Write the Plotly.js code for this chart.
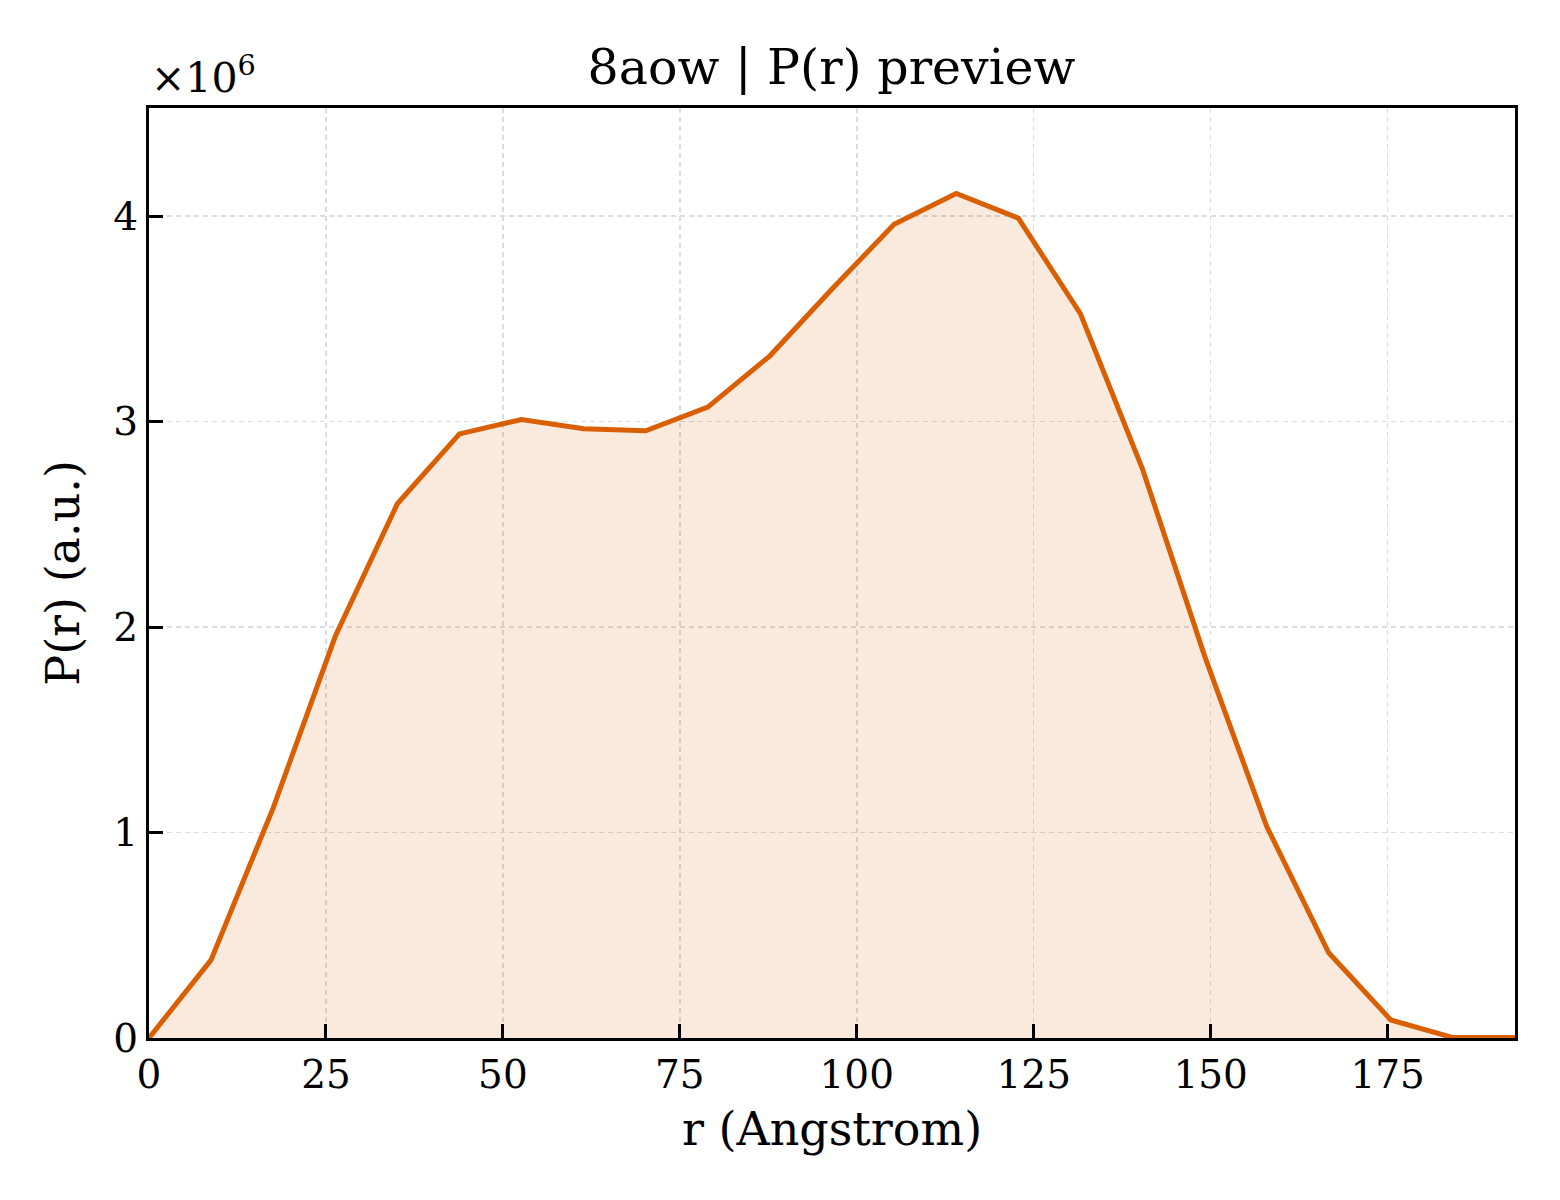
<!DOCTYPE html>
<html>
<head>
<meta charset="utf-8">
<script src="https://cdn.plot.ly/plotly-3.0.1.min.js"></script>
<style>html,body{margin:0;padding:0;background:#fff;}#chart{width:1560px;height:1200px;}</style>
</head>
<body>
<div id="chart"></div>
<script>
const rValues = [0, 8.77, 17.55, 26.32, 35.09, 43.86, 52.64, 61.41, 70.18, 78.95, 87.73, 96.5, 105.27, 114.05, 122.82, 131.59, 140.36, 149.14, 157.91, 166.68, 175.45, 184.23, 193.0];
const prValues = [0, 0.38e6, 1.12e6, 1.955e6, 2.60e6, 2.94e6, 3.01e6, 2.965e6, 2.955e6, 3.07e6, 3.32e6, 3.645e6, 3.96e6, 4.11e6, 3.99e6, 3.525e6, 2.77e6, 1.86e6, 1.03e6, 0.415e6, 0.088e6, 0.002e6, 0.002e6];
const xTicks = [0, 25, 50, 75, 100, 125, 150, 175];
const yTicks = [0, 1e6, 2e6, 3e6, 4e6];
const yTickText = ['0', '1', '2', '3', '4'];

const font = 'DejaVu Serif, serif';
const trace = {
  x: rValues, y: prValues, type: 'scatter', mode: 'lines',
  line: {color: '#d95f02', width: 5},
  fill: 'tozeroy', fillcolor: 'rgba(217,95,2,0.13)',
  hoverinfo: 'x+y'
};
const axisCommon = {
  showline: true, mirror: true, linecolor: '#000', linewidth: 3,
  ticks: 'inside', ticklen: 14, tickwidth: 3, tickcolor: '#000',
  showgrid: true, gridcolor: '#dcdcdc', gridwidth: 1.5, griddash: '5px,4px',
  zeroline: false, tickfont: {family: font, size: 39, color: '#000'}
};
const layout = {
  width: 1560, height: 1200,
  paper_bgcolor: '#fff', plot_bgcolor: '#fff',
  margin: {l: 149, r: 45, t: 108, b: 162},
  showlegend: false,
  font: {family: font, color: '#000'},
  title: {text: '8aow | P(r) preview', font: {family: font, size: 49, color: '#000'}, x: 0.533, xanchor: 'center', y: 0.944, yanchor: 'middle'},
  xaxis: Object.assign({}, axisCommon, {
    range: [0, 193], tickvals: xTicks, ticktext: xTicks.map(String),
    title: {text: 'r (Angstrom)', font: {family: font, size: 46, color: '#000'}, standoff: 18}
  }),
  yaxis: Object.assign({}, axisCommon, {
    range: [0, 4.526e6], tickvals: yTicks, ticktext: yTickText,
    title: {text: 'P(r) (a.u.)', font: {family: font, size: 46, color: '#000'}, standoff: 20}
  }),
  annotations: [{
    text: '×10<sup>6</sup>', xref: 'paper', yref: 'paper', x: 0, y: 1, xanchor: 'left', yanchor: 'bottom',
    yshift: 4, showarrow: false, font: {family: font, size: 41, color: '#000'}
  }]
};
Plotly.newPlot('chart', [trace], layout, {displayModeBar: false, staticPlot: true});
</script>
</body>
</html>
